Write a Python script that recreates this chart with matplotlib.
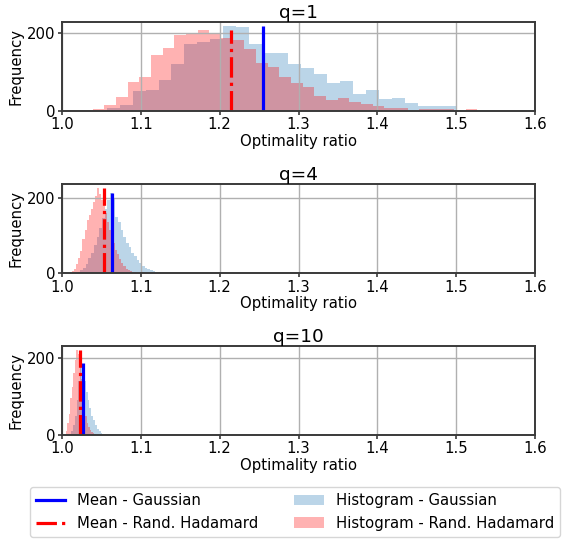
import numpy as np
import matplotlib
matplotlib.use("Agg")
import matplotlib.pyplot as plt

# ---------------- data ----------------
titles = ["q=1", "q=4", "q=10"]

# q=1
gauss_q1_range = (1.0567, 1.5989)
gauss_q1_counts = [7, 15, 51, 53, 79, 119, 170, 175, 183, 216, 214, 170, 147, 147, 119, 110,
                   94, 72, 76, 43, 53, 30, 32, 20, 14, 13, 13, 3, 3, 3, 0, 0, 3]
hada_q1_range = (1.039, 1.527)
hada_q1_counts = [4, 15, 36, 74, 86, 143, 160, 193, 197, 206, 196, 185, 180, 158, 123, 113,
                  87, 72, 61, 38, 28, 33, 23, 18, 13, 7, 7, 0, 4, 4, 4, 0, 4]
mean_gauss_q1 = 1.2554
mean_hada_q1 = 1.2144

# q=4
gauss_q4_range = (1.020, 1.1322)
gauss_q4_counts = [3, 8, 15, 25, 40, 55, 75, 95, 120, 145, 170, 195, 212, 200, 150, 135,
                   115, 95, 80, 70, 55, 45, 35, 28, 20, 15, 12, 8, 5, 4, 3, 2, 2]
hada_q4_range = (1.013, 1.0988)
hada_q4_counts = [6, 12, 25, 40, 60, 90, 115, 140, 155, 170, 188, 205, 225, 210, 195, 180,
                  160, 135, 115, 95, 80, 62, 50, 38, 28, 18, 12, 9, 6, 4, 3, 2, 1]
mean_gauss_q4 = 1.0639
mean_hada_q4 = 1.0537

# q=10
gauss_q10_range = (1.009, 1.056)
gauss_q10_counts = [3, 10, 25, 50, 90, 140, 187, 170, 140, 110, 90, 70, 50, 38, 25, 15,
                    10, 6, 3, 1]
hada_q10_range = (1.005, 1.043)
hada_q10_counts = [10, 30, 55, 95, 125, 160, 195, 220, 210, 185, 145, 105, 75, 50, 32, 20,
                   12, 7, 4, 2]
mean_gauss_q10 = 1.0262
mean_hada_q10 = 1.0232

gauss_ranges = [gauss_q1_range, gauss_q4_range, gauss_q10_range]
gauss_counts = [gauss_q1_counts, gauss_q4_counts, gauss_q10_counts]
hada_ranges = [hada_q1_range, hada_q4_range, hada_q10_range]
hada_counts = [hada_q1_counts, hada_q4_counts, hada_q10_counts]
gauss_means = [mean_gauss_q1, mean_gauss_q4, mean_gauss_q10]
hada_means = [mean_hada_q1, mean_hada_q4, mean_hada_q10]

xticks = [1.0, 1.1, 1.2, 1.3, 1.4, 1.5, 1.6]
yticks = [0, 200]

# ---------------- figure ----------------
W, H = 564, 539
fig = plt.figure(figsize=(W / 100, H / 100), dpi=100)

label_fs = 10.7
title_fs = 13.3
spine_col = "#3a3a3a"

axes_px = [(22, 111), (184, 273.3), (345.7, 435)]
left_px, right_px = 62, 535

handles = []
for i, (top, bot) in enumerate(axes_px):
    ax = fig.add_axes([left_px / W, 1 - bot / H, (right_px - left_px) / W, (bot - top) / H])
    gc = np.asarray(gauss_counts[i], dtype=float)
    hc = np.asarray(hada_counts[i], dtype=float)
    ge = np.linspace(gauss_ranges[i][0], gauss_ranges[i][1], len(gc) + 1)
    he = np.linspace(hada_ranges[i][0], hada_ranges[i][1], len(hc) + 1)

    ax.grid(True, color="#b0b0b0", linewidth=1.0)
    hg = ax.bar(ge[:-1], gc, width=np.diff(ge), align="edge", color="C0", alpha=0.3,
                linewidth=0)
    hh = ax.bar(he[:-1], hc, width=np.diff(he), align="edge", color="red", alpha=0.3,
                linewidth=0)
    ax.vlines(gauss_means[i], 0, gc.max(), color="blue", linewidth=2.3)
    ax.vlines(hada_means[i], 0, hc.max(), color="red", linewidth=2.3, linestyles="-.")

    ymax = max(gc.max(), hc.max()) * 1.05
    ax.set_xlim(1.0, 1.6)
    ax.set_ylim(0, ymax)
    ax.set_xticks(xticks)
    ax.set_yticks(yticks)
    ax.tick_params(labelsize=label_fs, length=3, width=1.2, pad=1.5, color=spine_col)
    for sp in ax.spines.values():
        sp.set_color(spine_col)
        sp.set_linewidth(1.4)
    ax.set_xlabel("Optimality ratio", fontsize=label_fs, labelpad=1)
    ax.set_ylabel("Frequency", fontsize=label_fs, labelpad=3)
    ax.set_title(titles[i], fontsize=title_fs, pad=2)
    if i == 0:
        handles = [
            plt.Line2D([], [], color="blue", linewidth=2.3),
            plt.Line2D([], [], color="red", linewidth=2.3, linestyle="-."),
            hg, hh,
        ]

labels = ["Mean - Gaussian", "Mean - Rand. Hadamard",
          "Histogram - Gaussian", "Histogram - Rand. Hadamard"]
fig.legend(handles, labels, ncol=2, loc="center", bbox_to_anchor=(0.523, 1 - 512 / H),
           fontsize=label_fs, columnspacing=2.4)

fig.savefig("out.png", dpi=100)
